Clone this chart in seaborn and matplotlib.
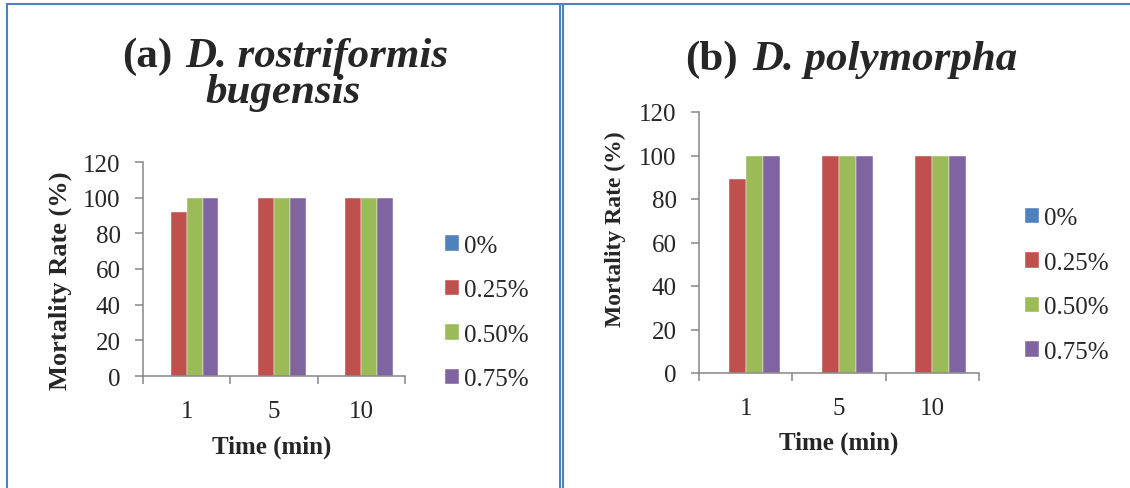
import pandas as pd
import matplotlib
matplotlib.use('Agg')
import matplotlib.pyplot as plt
from matplotlib.lines import Line2D
import seaborn as sns

# Mortality rate (%) by exposure time for each concentration
times = ['1', '5', '10']
concentrations = ['0%', '0.25%', '0.50%', '0.75%']
bugensis_rates = [[0, 0, 0], [92, 100, 100], [100, 100, 100], [100, 100, 100]]
polymorpha_rates = [[0, 0, 0], [89, 100, 100], [100, 100, 100], [100, 100, 100]]
y_ticks = [0, 20, 40, 60, 80, 100, 120]
colors = ['#4F81BD', '#C0504D', '#9BBB59', '#8064A2']


def to_long(rates):
    rows = []
    for conc, vals in zip(concentrations, rates):
        for t, v in zip(times, vals):
            rows.append({'Time': t, 'Rate': v, 'Conc': conc})
    return pd.DataFrame(rows)


sns.set_style('white')
plt.rcParams['font.family'] = ['Liberation Serif', 'DejaVu Serif']

W, H = 1130, 489
fig = plt.figure(figsize=(W / 100, H / 100), dpi=100)


def px_box(x0, y_top, x1, y_bot):
    return [x0 / W, 1 - y_bot / H, (x1 - x0) / W, (y_bot - y_top) / H]


panels = [
    dict(rates=bugensis_rates, box=(143, 163, 405, 377),
         ylab_px=(60, 281), ylab_size=19, xlab_px=(272, 447),
         legend_px=(445, 313.5)),
    dict(rates=polymorpha_rates, box=(699, 113, 979, 374),
         ylab_px=(615, 229), ylab_size=17, xlab_px=(839, 443),
         legend_px=(1025, 286)),
]

grey = '#868686'
for p in panels:
    x0, yt, x1, yb = p['box']
    ax = fig.add_axes(px_box(x0, yt, x1, yb))
    df = to_long(p['rates'])
    sns.barplot(data=df, x='Time', y='Rate', hue='Conc', order=times,
                hue_order=concentrations, palette=colors, saturation=1,
                width=0.727, edgecolor='white', linewidth=0.3, ax=ax)
    ax.set_xlim(-0.5, 2.5)
    ax.set_ylim(0, 120)
    ax.set_yticks(y_ticks)
    ax.set_xticks([0, 1, 2])
    ax.set_xticklabels(times)
    ax.set_xticks([-0.5, 0.5, 1.5, 2.5], minor=True)
    ax.tick_params(axis='x', which='major', length=0, pad=17, labelsize=18)
    ax.tick_params(axis='x', which='minor', length=6, width=1.1,
                   color=grey, direction='out', bottom=True)
    ax.tick_params(axis='y', length=6, width=1.1, color=grey,
                   direction='out', left=True, pad=10, labelsize=18)
    for side in ['top', 'right']:
        ax.spines[side].set_visible(False)
    for side in ['left', 'bottom']:
        ax.spines[side].set_color(grey)
        ax.spines[side].set_linewidth(1.1)

    w = x1 - x0
    h = yb - yt
    ax.set_xlabel('Time (min)', fontsize=18, fontweight='bold', va='center')
    ax.xaxis.set_label_coords((p['xlab_px'][0] - x0) / w, (yb - p['xlab_px'][1]) / h)
    ax.set_ylabel('Mortality Rate (%)', fontsize=p['ylab_size'],
                  fontweight='bold', va='center')
    ax.yaxis.set_label_coords((p['ylab_px'][0] - x0) / w, (yb - p['ylab_px'][1]) / h)

    handles, labels = ax.get_legend_handles_labels()
    if ax.legend_ is not None:
        ax.legend_.remove()
    lx, ly = p['legend_px']
    ax.legend(handles, labels, loc='center left',
              bbox_to_anchor=(lx / W, 1 - ly / H), bbox_transform=fig.transFigure,
              frameon=False, fontsize=18, handlelength=0.56, handleheight=0.56,
              handletextpad=0.2, labelspacing=0.9, borderpad=0, borderaxespad=0)

# titles
fs_title = 31
fig.text(122 / W, 1 - 67 / H, '(a)', fontsize=fs_title, fontweight='bold',
         va='baseline', ha='left')
fig.text(185 / W, 1 - 67 / H, 'D. rostriformis', fontsize=fs_title,
         fontweight='bold', style='italic', va='baseline', ha='left')
fig.text(283 / W, 1 - 103 / H, 'bugensis', fontsize=fs_title,
         fontweight='bold', style='italic', va='baseline', ha='center')
fig.text(685 / W, 1 - 70 / H, '(b)', fontsize=fs_title, fontweight='bold',
         va='baseline', ha='left')
fig.text(752 / W, 1 - 70 / H, 'D. polymorpha', fontsize=fs_title,
         fontweight='bold', style='italic', va='baseline', ha='left')

# table cell borders
border = '#4F81BD'
for xs, ys in [((7, W), (5, 5)), ((7, 7), (5, H)),
               ((560, 560), (5, H)), ((563, 563), (5, H))]:
    fig.add_artist(Line2D([x / W for x in xs], [1 - y / H for y in ys],
                          transform=fig.transFigure, color=border, lw=1.5))

fig.savefig('out.png', dpi=100)
